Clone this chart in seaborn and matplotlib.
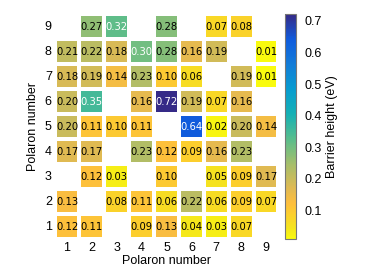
import numpy as np
import pandas as pd
import matplotlib.pyplot as plt
import seaborn as sns
from matplotlib.colors import LinearSegmentedColormap

# Barrier heights (eV), rows = polaron number 9 (top) .. 1 (bottom), cols = polaron 1..9
nan = np.nan
row_labels = [9, 8, 7, 6, 5, 4, 3, 2, 1]
col_labels = [1, 2, 3, 4, 5, 6, 7, 8, 9]
row9 = [nan, 0.27, 0.32, nan, 0.28, nan, 0.07, 0.08, nan]
row8 = [0.21, 0.22, 0.18, 0.30, 0.28, 0.16, 0.19, nan, 0.01]
row7 = [0.18, 0.19, 0.14, 0.23, 0.10, 0.06, nan, 0.19, 0.01]
row6 = [0.20, 0.35, nan, 0.16, 0.72, 0.19, 0.07, 0.16, nan]
row5 = [0.20, 0.11, 0.10, 0.11, nan, 0.64, 0.02, 0.20, 0.14]
row4 = [0.17, 0.17, nan, 0.23, 0.12, 0.09, 0.16, 0.23, nan]
row3 = [nan, 0.12, 0.03, nan, 0.10, nan, 0.05, 0.09, 0.17]
row2 = [0.13, nan, 0.08, 0.11, 0.06, 0.22, 0.06, 0.09, 0.07]
row1 = [0.12, 0.11, nan, 0.09, 0.13, 0.04, 0.03, 0.07, nan]

df = pd.DataFrame([row9, row8, row7, row6, row5, row4, row3, row2, row1],
                  index=row_labels, columns=col_labels)

# parula-like colormap (reversed: low = yellow, high = dark blue)
parula_pts = [
    (0 / 63, (0.2081, 0.1663, 0.5292)),
    (7 / 63, (0.0591, 0.3598, 0.8683)),
    (14 / 63, (0.0723, 0.4887, 0.8467)),
    (21 / 63, (0.0265, 0.6137, 0.8135)),
    (28 / 63, (0.0843, 0.6928, 0.7062)),
    (35 / 63, (0.3482, 0.7424, 0.5473)),
    (42 / 63, (0.6473, 0.7456, 0.4188)),
    (49 / 63, (0.8824, 0.7274, 0.3217)),
    (53 / 63, (0.9938, 0.7455, 0.2403)),
    (56 / 63, (0.9880, 0.8066, 0.1794)),
    (60 / 63, (0.9589, 0.8949, 0.1132)),
    (63 / 63, (0.9763, 0.9831, 0.0538)),
]
parula_r = LinearSegmentedColormap.from_list("parula", parula_pts).reversed()

plt.rcParams["font.family"] = ["Liberation Sans", "DejaVu Sans"]

fig = plt.figure(figsize=(3.82, 2.68), dpi=100)
ax = fig.add_axes([0.143, 0.108, 0.586, 0.838])
cax = fig.add_axes([0.745, 0.108, 0.0296, 0.838])

sns.heatmap(df, ax=ax, cbar_ax=cax, cmap=parula_r, vmin=0.01, vmax=0.72,
            annot=True, fmt=".2f", linewidths=1.5, linecolor="white",
            annot_kws={"fontsize": 7.2, "family": "DejaVu Sans"})

# white text on dark cells
for t in ax.texts:
    t.set_color("white" if float(t.get_text()) >= 0.295 else "black")

ax.tick_params(length=0, pad=2, labelsize=9)
ax.set_yticklabels(row_labels, rotation=0)
ax.set_xticklabels(col_labels, rotation=0)
ax.set_xlabel("Polaron number", fontsize=9, labelpad=1)
ax.set_ylabel("Polaron number", fontsize=9, labelpad=4)

cb = ax.collections[0].colorbar
cb.set_ticks([0.1, 0.2, 0.3, 0.4, 0.5, 0.6, 0.7])
cb.ax.tick_params(length=0, pad=6, labelsize=9)
cb.outline.set_edgecolor("#777777")
cb.outline.set_linewidth(0.8)
cb.set_label("Barrier height (eV)", fontsize=9, labelpad=3)

plt.savefig("out.png", dpi=100)
